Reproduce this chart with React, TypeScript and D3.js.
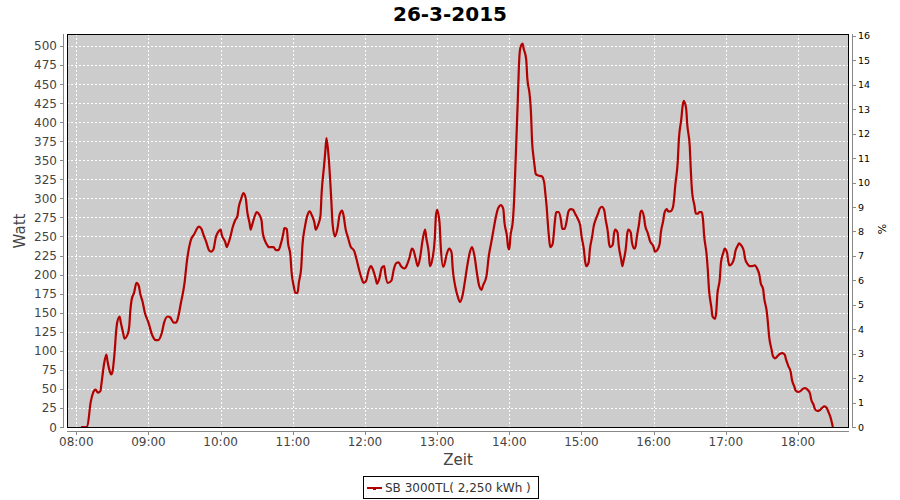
import * as d3 from "d3";

// Messwerte 26-3-2015, SB 3000TL
const times = [
  "08:04", "08:09", "08:12", "08:14", "08:16", "08:18", "08:20", "08:21", "08:23", "08:25",
  "08:26", "08:28", "08:29", "08:30", "08:32", "08:33", "08:34", "08:36", "08:37", "08:39",
  "08:40", "08:43", "08:44", "08:45", "08:46", "08:48", "08:50", "08:52", "08:53", "08:55",
  "08:57", "09:00", "09:03", "09:06", "09:08", "09:11", "09:13", "09:16", "09:18", "09:21",
  "09:23", "09:24", "09:27", "09:30", "09:32", "09:35", "09:38", "09:42", "09:44", "09:46",
  "09:48", "09:50", "09:52", "09:54", "09:56", "09:58", "10:00", "10:01", "10:04", "10:05",
  "10:06", "10:08", "10:10", "10:12", "10:14", "10:15", "10:17", "10:18", "10:19", "10:21",
  "10:22", "10:24", "10:25", "10:26", "10:28", "10:30", "10:32", "10:34", "10:35", "10:37",
  "10:39", "10:40", "10:44", "10:46", "10:48", "10:50", "10:52", "10:53", "10:55", "10:56",
  "10:58", "10:59", "11:01", "11:02", "11:04", "11:05", "11:07", "11:08", "11:10", "11:12",
  "11:14", "11:16", "11:18", "11:19", "11:21", "11:23", "11:24", "11:26", "11:27", "11:28",
  "11:30", "11:32", "11:33", "11:35", "11:37", "11:39", "11:41", "11:42", "11:44", "11:46",
  "11:48", "11:51", "11:53", "11:55", "11:57", "11:59", "12:01", "12:03", "12:05", "12:07",
  "12:09", "12:10", "12:12", "12:14", "12:16", "12:17", "12:19", "12:22", "12:24", "12:26",
  "12:28", "12:30", "12:33", "12:35", "12:37", "12:39", "12:40", "12:42", "12:44", "12:46",
  "12:48", "12:50", "12:51", "12:53", "12:54", "12:56", "12:58", "12:59", "13:00", "13:02",
  "13:03", "13:05", "13:06", "13:08", "13:10", "13:12", "13:13", "13:15", "13:17", "13:19",
  "13:21", "13:23", "13:25", "13:27", "13:29", "13:31", "13:33", "13:35", "13:37", "13:38",
  "13:41", "13:43", "13:45", "13:47", "13:49", "13:51", "13:53", "13:55", "13:56", "13:58",
  "13:59", "14:00", "14:01", "14:03", "14:04", "14:05", "14:06", "14:07", "14:08", "14:09",
  "14:11", "14:12", "14:14", "14:15", "14:17", "14:18", "14:19", "14:20", "14:21", "14:22",
  "14:24", "14:27", "14:29", "14:30", "14:31", "14:32", "14:33", "14:34", "14:36", "14:38",
  "14:39", "14:41", "14:43", "14:44", "14:46", "14:48", "14:49", "14:51", "14:53", "14:55",
  "14:57", "14:59", "15:00", "15:02", "15:03", "15:04", "15:06", "15:07", "15:09", "15:10",
  "15:12", "15:14", "15:15", "15:17", "15:19", "15:20", "15:22", "15:23", "15:24", "15:26",
  "15:27", "15:28", "15:30", "15:31", "15:33", "15:34", "15:35", "15:37", "15:38", "15:39",
  "15:41", "15:42", "15:44", "15:45", "15:46", "15:48", "15:49", "15:50", "15:52", "15:53",
  "15:55", "15:57", "16:00", "16:01", "16:03", "16:05", "16:06", "16:08", "16:09", "16:11",
  "16:12", "16:14", "16:16", "16:17", "16:18", "16:20", "16:21", "16:23", "16:24", "16:25",
  "16:27", "16:28", "16:30", "16:31", "16:32", "16:34", "16:35", "16:37", "16:38", "16:40",
  "16:41", "16:42", "16:44", "16:45", "16:46", "16:48", "16:49", "16:51", "16:52", "16:53",
  "16:55", "16:56", "16:58", "16:59", "17:01", "17:02", "17:03", "17:05", "17:07", "17:08",
  "17:10", "17:11", "17:13", "17:15", "17:16", "17:18", "17:20", "17:22", "17:24", "17:26",
  "17:28", "17:29", "17:31", "17:32", "17:34", "17:35", "17:36", "17:38", "17:39", "17:41",
  "17:43", "17:45", "17:47", "17:49", "17:50", "17:52", "17:54", "17:55", "17:57", "17:58",
  "18:00", "18:02", "18:04", "18:06", "18:08", "18:10", "18:11", "18:13", "18:14", "18:16",
  "18:18", "18:20", "18:22", "18:24", "18:25", "18:27", "18:28", "18:29",
];

const watts = [
  0, 0, 33, 45, 49, 45, 47, 58, 82, 95,
  86, 72, 69, 72, 101, 123, 137, 145, 137, 123,
  116, 123, 132, 154, 167, 176, 189, 185, 176, 165,
  150, 137, 121, 114, 114, 123, 137, 145, 144, 137,
  137, 140, 163, 189, 218, 244, 253, 263, 260, 251,
  243, 233, 230, 233, 249, 256, 259, 252, 242, 236,
  239, 249, 262, 271, 277, 288, 299, 304, 307, 299,
  284, 268, 259, 264, 275, 282, 279, 271, 255, 244,
  238, 236, 236, 232, 232, 240, 253, 261, 260, 242,
  225, 203, 183, 176, 176, 189, 209, 238, 262, 277,
  283, 277, 268, 259, 265, 277, 308, 343, 361, 379,
  350, 298, 268, 250, 259, 279, 284, 279, 259, 248,
  237, 231, 220, 207, 196, 189, 192, 205, 211, 205,
  194, 188, 195, 209, 211, 200, 189, 192, 207, 215,
  216, 211, 208, 213, 222, 234, 233, 222, 211, 224,
  246, 259, 248, 229, 211, 220, 246, 277, 285, 268,
  237, 210, 213, 227, 234, 229, 207, 185, 172, 164,
  172, 190, 211, 228, 236, 225, 203, 185, 180, 185,
  198, 225, 242, 260, 277, 288, 291, 286, 268, 251,
  236, 233, 251, 271, 297, 338, 382, 426, 474, 496,
  503, 496, 483, 457, 435, 413, 373, 356, 343, 332,
  330, 329, 321, 306, 290, 268, 249, 236, 240, 271,
  282, 282, 271, 260, 260, 273, 282, 286, 285, 279,
  273, 264, 251, 233, 218, 211, 216, 233, 251, 262,
  273, 281, 286, 289, 284, 273, 255, 240, 236, 239,
  253, 259, 255, 238, 220, 211, 218, 236, 253, 259,
  255, 242, 234, 237, 249, 268, 281, 284, 275, 264,
  255, 244, 236, 230, 232, 240, 255, 271, 281, 286,
  283, 283, 288, 299, 317, 347, 378, 404, 420, 428,
  418, 396, 369, 334, 308, 290, 280, 280, 282, 282,
  273, 251, 227, 207, 181, 157, 145, 142, 150, 174,
  194, 216, 229, 234, 229, 218, 212, 214, 222, 231,
  238, 241, 238, 231, 221, 214, 211, 211, 212, 208,
  199, 189, 181, 168, 152, 137, 119, 102, 94, 90,
  93, 96, 97, 95, 89, 80, 72, 62, 53, 48,
  46, 47, 50, 51, 49, 44, 36, 29, 24, 21,
  22, 25, 27, 25, 21, 13, 7, 0,
];

const wattTicks = d3.range(0, 501, 25);
const percentTicks = d3.range(0, 17, 1);
const title = "26-3-2015";
const legendLabel = "SB 3000TL( 2,250 kWh )";

const W = 900;
const H = 500;
const plot = { left: 67, right: 848, top: 34, bottom: 427 };
const FONT = "'DejaVu Sans', Verdana, sans-serif";
const LINE = "#b30000";

const parse = d3.timeParse("%H:%M");

export default function App() {
  const points = times.map((t, i) => ({ t: parse(t) as Date, w: watts[i] }));

  const x = d3
    .scaleTime()
    .domain([new Date(1900, 0, 1, 7, 52, 16), new Date(1900, 0, 1, 18, 41, 36)])
    .range([plot.left, plot.right]);
  const y = d3.scaleLinear().domain([0, 515]).range([plot.bottom, plot.top + 0.5]);
  const yPct = d3.scaleLinear().domain([0, 16.06]).range([plot.bottom, plot.top + 0.5]);

  const hourTicks = x.ticks(d3.timeHour.every(1) as d3.TimeInterval);
  const fmt = d3.timeFormat("%H:%M");

  const line = d3
    .line<{ t: Date; w: number }>()
    .x((d) => x(d.t))
    .y((d) => y(d.w))
    .curve(d3.curveMonotoneX);

  const crisp = (v: number) => Math.round(v) + 0.5;

  return (
    <svg
      width={W}
      height={H}
      style={{ position: "absolute", left: 0, top: 0, background: "#fff" }}
      fontFamily={FONT}
    >
      <text x={450} y={21} textAnchor="middle" fontSize={20} fontWeight="bold" fill="#000">
        {title}
      </text>

      {/* plot background */}
      <rect
        x={plot.left}
        y={plot.top}
        width={plot.right - plot.left}
        height={plot.bottom - plot.top}
        fill="#cccccc"
      />

      {/* grid */}
      {wattTicks.map((v) => (
        <line
          key={"gy" + v}
          x1={plot.left}
          x2={plot.right}
          y1={crisp(y(v))}
          y2={crisp(y(v))}
          stroke="#fff"
          strokeWidth={1}
          strokeDasharray="2,2"
        />
      ))}
      {hourTicks.map((d) => (
        <line
          key={"gx" + d.getTime()}
          x1={crisp(x(d))}
          x2={crisp(x(d))}
          y1={plot.top}
          y2={plot.bottom}
          stroke="#fff"
          strokeWidth={1}
          strokeDasharray="2,2"
        />
      ))}

      {/* series */}
      <path d={line(points) || ""} fill="none" stroke={LINE} strokeWidth={2.2} strokeLinejoin="round" />

      {/* plot border */}
      <rect
        x={plot.left + 0.5}
        y={plot.top + 0.5}
        width={plot.right - plot.left}
        height={plot.bottom - plot.top}
        fill="none"
        stroke="#000"
        strokeWidth={1}
      />

      {/* left axis */}
      <line x1={63.5} x2={63.5} y1={plot.top} y2={plot.bottom + 1} stroke="#888" />
      {wattTicks.map((v) => (
        <g key={"ly" + v}>
          <line x1={60} x2={63} y1={crisp(y(v))} y2={crisp(y(v))} stroke="#888" />
          <text x={57} y={y(v) + 4.5} textAnchor="end" fontSize={12} fill="#444">
            {v}
          </text>
        </g>
      ))}
      <text
        transform={`translate(25,231) rotate(-90)`}
        textAnchor="middle"
        fontSize={15}
        fill="#444"
      >
        Watt
      </text>

      {/* right axis */}
      <line x1={852.5} x2={852.5} y1={plot.top} y2={plot.bottom + 1} stroke="#888" />
      {percentTicks.map((v) => (
        <g key={"ry" + v}>
          <line x1={853} x2={856} y1={crisp(yPct(v))} y2={crisp(yPct(v))} stroke="#888" />
          <text x={858} y={yPct(v) + 3.5} fontSize={9.5} fill="#000">
            {v}
          </text>
        </g>
      ))}
      <text
        transform={`translate(886,229) rotate(-90)`}
        textAnchor="middle"
        fontSize={11}
        fill="#000"
      >
        %
      </text>

      {/* bottom axis */}
      <line x1={plot.left} x2={plot.right + 1} y1={431.5} y2={431.5} stroke="#888" />
      {hourTicks.map((d) => (
        <g key={"bx" + d.getTime()}>
          <line x1={crisp(x(d))} x2={crisp(x(d))} y1={432} y2={435} stroke="#888" />
          <text x={x(d)} y={446} textAnchor="middle" fontSize={12} fill="#444">
            {fmt(d)}
          </text>
        </g>
      ))}
      <text x={458} y={465} textAnchor="middle" fontSize={15} fill="#444">
        Zeit
      </text>

      {/* legend */}
      <rect x={363.5} y={476.5} width={175} height={22} fill="#fff" stroke="#000" />
      <line x1={367} x2={382} y1={488} y2={488} stroke={LINE} strokeWidth={2} />
      <rect x={373} y={487} width={3} height={3} fill={LINE} />
      <text x={385} y={492} fontSize={12} fill="#333">
        {legendLabel}
      </text>
    </svg>
  );
}
